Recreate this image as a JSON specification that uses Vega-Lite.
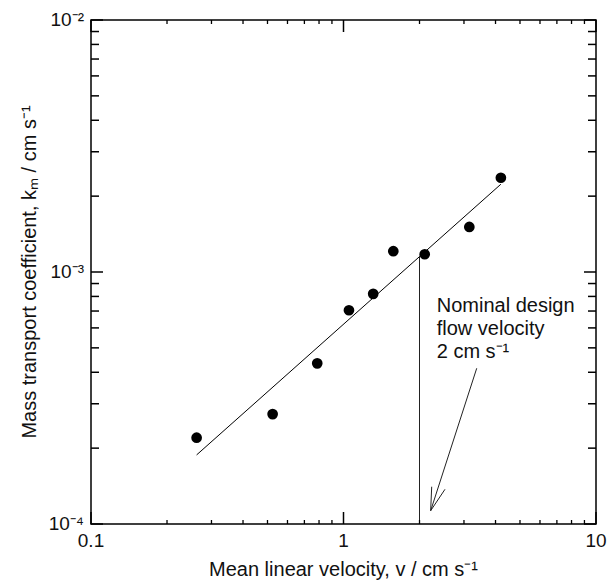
{
  "$schema": "https://vega.github.io/schema/vega-lite/v6.json",
  "width": 505,
  "height": 504,
  "autosize": {"type": "none"},
  "padding": {"left": 91, "top": 20, "right": 11, "bottom": 59},
  "background": "white",
  "config": {
    "view": {"stroke": "black", "strokeWidth": 1.5}
  },
  "datasets": {
    "points": [
      {"v": 0.262, "km": 0.000220},
      {"v": 0.524, "km": 0.000273},
      {"v": 0.787, "km": 0.000434},
      {"v": 1.051, "km": 0.000705},
      {"v": 1.311, "km": 0.000819},
      {"v": 1.575, "km": 0.001209},
      {"v": 2.097, "km": 0.001176},
      {"v": 3.15, "km": 0.001509},
      {"v": 4.2, "km": 0.002366}
    ],
    "fit": [
      {"v": 0.262, "km": 0.000188},
      {"v": 4.2, "km": 0.00223}
    ],
    "design": [
      {"v": 2.0, "lo": 0.0001, "hi": 0.00116}
    ],
    "arrow": [
      {"x": 3.37, "y": 0.000415, "x2": 2.214, "y2": 0.0001129},
      {"x": 2.235, "y": 0.0001406, "x2": 2.214, "y2": 0.0001129},
      {"x": 2.523, "y": 0.0001373, "x2": 2.214, "y2": 0.0001129}
    ],
    "note": [
      {"x": 2.34, "y": 0.000694, "label": "Nominal design\nflow velocity\n2 cm s⁻¹"}
    ],
    "xtitle": [{"x": 1, "y": 0.0001, "label": "Mean linear velocity, v / cm s⁻¹"}],
    "ytitle": [{"x": 0.1, "y": 0.001, "label": "Mass transport coefficient, kₘ / cm s⁻¹"}],
    "xmajor": [{"v": 0.1, "label": "0.1"}, {"v": 1, "label": "1"}, {"v": 10, "label": "10"}],
    "xminor": [{"v": 0.2}, {"v": 0.3}, {"v": 0.4}, {"v": 0.5}, {"v": 0.6}, {"v": 0.7}, {"v": 0.8}, {"v": 0.9}, {"v": 2}, {"v": 3}, {"v": 4}, {"v": 5}, {"v": 6}, {"v": 7}, {"v": 8}, {"v": 9}],
    "ymajor": [{"km": 0.0001, "label": "10⁻⁴"}, {"km": 0.001, "label": "10⁻³"}, {"km": 0.01, "label": "10⁻²"}],
    "yminor": [{"km": 0.0002}, {"km": 0.0003}, {"km": 0.0004}, {"km": 0.0005}, {"km": 0.0006}, {"km": 0.0007}, {"km": 0.0008}, {"km": 0.0009}, {"km": 0.002}, {"km": 0.003}, {"km": 0.004}, {"km": 0.005}, {"km": 0.006}, {"km": 0.007}, {"km": 0.008}, {"km": 0.009}]
  },
  "layer": [
    {
      "data": {"name": "points"},
      "mark": {"type": "point", "filled": true, "size": 115, "color": "black", "opacity": 1},
      "encoding": {
        "x": {"field": "v", "type": "quantitative", "scale": {"type": "log", "domain": [0.1, 10], "nice": false}, "axis": null},
        "y": {"field": "km", "type": "quantitative", "scale": {"type": "log", "domain": [0.0001, 0.01], "nice": false}, "axis": null}
      }
    },
    {
      "data": {"name": "fit"},
      "mark": {"type": "line", "color": "black", "strokeWidth": 1},
      "encoding": {
        "x": {"field": "v", "type": "quantitative", "axis": null},
        "y": {"field": "km", "type": "quantitative", "axis": null}
      }
    },
    {
      "data": {"name": "design"},
      "mark": {"type": "rule", "color": "#222", "strokeWidth": 1},
      "encoding": {
        "x": {"field": "v", "type": "quantitative", "axis": null},
        "y": {"field": "lo", "type": "quantitative", "axis": null},
        "y2": {"field": "hi"}
      }
    },
    {
      "data": {"name": "arrow"},
      "mark": {"type": "rule", "color": "#222", "strokeWidth": 1},
      "encoding": {
        "x": {"field": "x", "type": "quantitative", "axis": null},
        "y": {"field": "y", "type": "quantitative", "axis": null},
        "x2": {"field": "x2"},
        "y2": {"field": "y2"}
      }
    },
    {
      "data": {"name": "xmajor"},
      "mark": {"type": "tick", "orient": "vertical", "size": 12, "thickness": 1.5, "color": "black", "opacity": 1, "yOffset": -6},
      "encoding": {
        "x": {"field": "v", "type": "quantitative", "axis": null},
        "y": {"datum": 0.0001, "type": "quantitative", "axis": null}
      }
    },
    {
      "data": {"name": "xmajor"},
      "mark": {"type": "tick", "orient": "vertical", "size": 12, "thickness": 1.5, "color": "black", "opacity": 1, "yOffset": 6},
      "encoding": {
        "x": {"field": "v", "type": "quantitative", "axis": null},
        "y": {"datum": 0.01, "type": "quantitative", "axis": null}
      }
    },
    {
      "data": {"name": "xminor"},
      "mark": {"type": "tick", "orient": "vertical", "size": 4, "thickness": 1.3, "color": "black", "opacity": 1, "yOffset": -2},
      "encoding": {
        "x": {"field": "v", "type": "quantitative", "axis": null},
        "y": {"datum": 0.0001, "type": "quantitative", "axis": null}
      }
    },
    {
      "data": {"name": "xminor"},
      "mark": {"type": "tick", "orient": "vertical", "size": 4, "thickness": 1.3, "color": "black", "opacity": 1, "yOffset": 2},
      "encoding": {
        "x": {"field": "v", "type": "quantitative", "axis": null},
        "y": {"datum": 0.01, "type": "quantitative", "axis": null}
      }
    },
    {
      "data": {"name": "ymajor"},
      "mark": {"type": "tick", "orient": "horizontal", "size": 12, "thickness": 1.5, "color": "black", "opacity": 1, "xOffset": 6},
      "encoding": {
        "y": {"field": "km", "type": "quantitative", "axis": null},
        "x": {"datum": 0.1, "type": "quantitative", "axis": null}
      }
    },
    {
      "data": {"name": "ymajor"},
      "mark": {"type": "tick", "orient": "horizontal", "size": 12, "thickness": 1.5, "color": "black", "opacity": 1, "xOffset": -6},
      "encoding": {
        "y": {"field": "km", "type": "quantitative", "axis": null},
        "x": {"datum": 10, "type": "quantitative", "axis": null}
      }
    },
    {
      "data": {"name": "yminor"},
      "mark": {"type": "tick", "orient": "horizontal", "size": 8, "thickness": 1.5, "color": "black", "opacity": 1, "xOffset": 4},
      "encoding": {
        "y": {"field": "km", "type": "quantitative", "axis": null},
        "x": {"datum": 0.1, "type": "quantitative", "axis": null}
      }
    },
    {
      "data": {"name": "yminor"},
      "mark": {"type": "tick", "orient": "horizontal", "size": 8, "thickness": 1.5, "color": "black", "opacity": 1, "xOffset": -4},
      "encoding": {
        "y": {"field": "km", "type": "quantitative", "axis": null},
        "x": {"datum": 10, "type": "quantitative", "axis": null}
      }
    },
    {
      "data": {"name": "note"},
      "mark": {"type": "text", "align": "left", "baseline": "alphabetic", "lineBreak": "\n", "lineHeight": 23, "fontSize": 20, "font": "Liberation Sans", "color": "#111"},
      "encoding": {
        "x": {"field": "x", "type": "quantitative", "axis": null},
        "y": {"field": "y", "type": "quantitative", "axis": null},
        "text": {"field": "label"}
      }
    },
    {
      "data": {"name": "xmajor"},
      "mark": {"type": "text", "align": "center", "baseline": "top", "dy": 8, "fontSize": 19, "font": "Liberation Sans", "color": "#111"},
      "encoding": {
        "x": {"field": "v", "type": "quantitative", "axis": null},
        "y": {"datum": 0.0001, "type": "quantitative", "axis": null},
        "text": {"field": "label"}
      }
    },
    {
      "data": {"name": "ymajor"},
      "mark": {"type": "text", "align": "right", "baseline": "middle", "dx": -7, "fontSize": 19, "font": "Liberation Sans", "color": "#111"},
      "encoding": {
        "y": {"field": "km", "type": "quantitative", "axis": null},
        "x": {"datum": 0.1, "type": "quantitative", "axis": null},
        "text": {"field": "label"}
      }
    },
    {
      "data": {"name": "xtitle"},
      "mark": {"type": "text", "align": "center", "baseline": "top", "dy": 36, "fontSize": 20, "font": "Liberation Sans", "color": "#111"},
      "encoding": {
        "x": {"field": "x", "type": "quantitative", "axis": null},
        "y": {"field": "y", "type": "quantitative", "axis": null},
        "text": {"field": "label"}
      }
    },
    {
      "data": {"name": "ytitle"},
      "mark": {"type": "text", "align": "center", "baseline": "middle", "angle": 270, "dy": -61, "fontSize": 20, "font": "Liberation Sans", "color": "#111"},
      "encoding": {
        "x": {"field": "x", "type": "quantitative", "axis": null},
        "y": {"field": "y", "type": "quantitative", "axis": null},
        "text": {"field": "label"}
      }
    }
  ]
}
